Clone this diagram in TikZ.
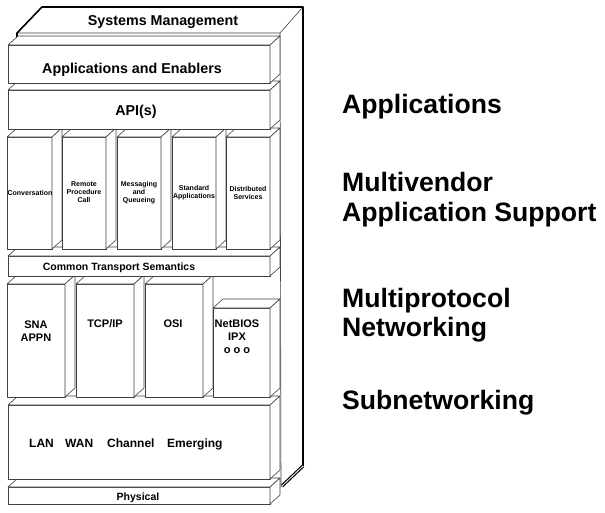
\documentclass[tikz,border=0pt]{standalone}
\usepackage{fontspec}
\setmainfont{Liberation Sans}
\newcommand\dx{10}
\newcommand\dy{9}
\tikzset{
  face/.style={draw=black!75, line width=0.6pt, fill=white, line join=round},
  heavy/.style={draw=black, line width=1.6pt, line join=round},
  big/.style={font=\fontsize{26.6}{30}\selectfont\bfseries, anchor=base west, inner sep=0pt},
  mid/.style={font=\fontsize{14.3}{16}\selectfont\bfseries, anchor=base, inner sep=0pt},
  sml/.style={font=\fontsize{10.5}{12}\selectfont\bfseries, anchor=base, inner sep=0pt},
  prot/.style={font=\fontsize{11}{13}\selectfont\bfseries, align=center, inner sep=0pt},
  tiny/.style={font=\fontsize{7}{7.8}\selectfont\bfseries, align=center, inner sep=0pt},
  net/.style={font=\fontsize{12}{14}\selectfont\bfseries, anchor=base west, inner sep=0pt}
}
\newcommand\slabbox[4]{%
  \draw[face] (#1,#2) rectangle (#3,#4);
  \draw[face] (#1,#2) -- (#1+\dx,#2-\dy) -- (#3+\dx,#2-\dy) -- (#3,#2) -- cycle;
  \draw[face] (#3,#2) -- (#3+\dx,#2-\dy) -- (#3+\dx,#4-\dy) -- (#3,#4) -- cycle;
}
\begin{document}
\begin{tikzpicture}[x=1pt,y=-1pt]
\useasboundingbox[fill=white] (0,0) rectangle (605,512);
% back box (Systems Management)
\fill[white] (17,33) -- (42,7) -- (303,7) -- (303,466) -- (281,487) -- (17,487) -- cycle;
\draw[face] (17,33) -- (280,33) -- (303,7);
\draw[face] (280,33) -- (281,487);
\draw[heavy] (17,40) -- (17,33) -- (42,7) -- (303,7) -- (303,466);
\draw[black, line width=1.2pt, double=white, double distance=0.8pt] (303,466) -- (282,486);
% layers, bottom to top
\slabbox{8}{487}{270}{504}
\slabbox{8}{405}{270}{479}
\slabbox{7}{284}{65}{397}
\slabbox{76}{284}{134}{397}
\slabbox{145}{284}{203}{397}
\slabbox{213}{308}{270}{397}
\slabbox{8}{256}{270}{276}
\slabbox{7}{137}{52}{249}
\slabbox{62}{137}{106}{249}
\slabbox{117}{137}{161}{249}
\slabbox{172}{137}{216}{249}
\slabbox{226}{137}{270}{249}
\slabbox{8}{90}{270}{129}
\slabbox{8}{45}{270}{83}
% texts in the stack
\node[mid] (sysm) at (163,25) {Systems Management};
\node[mid] (appen) at (132,73) {Applications and Enablers};
\node[mid] (api) at (136,115) {API(s)};
\node[tiny] (conv) at (30,193) {Conversation};
\node[tiny] (rpc) at (84,192) {Remote\\Procedure\\Call};
\node[tiny] (mq) at (139,193) {Messaging\\and\\Queueing};
\node[tiny] (stdapp) at (194,193) {Standard\\Applications};
\node[tiny] (dist) at (248,193) {Distributed\\Services};
\node[sml] (cts) at (119,270) {Common Transport Semantics};
\node[prot] (sna) at (36,331) {SNA\\APPN};
\node[prot] (tcp) at (105,324) {TCP/IP};
\node[prot] (osi) at (173,324) {OSI};
\node[prot] (netb) at (237,337) {NetBIOS\\IPX\\o o o};
\node[net] (lan) at (29,447) {LAN};
\node[net] (wan) at (65,447) {WAN};
\node[net] (chan) at (107,447) {Channel};
\node[net] (emer) at (167,447) {Emerging};
\node[sml] (phys) at (138,500) {Physical};
% right-hand labels
\node[big] (lapps) at (342,113.5) {Applications};
\node[big] (lmv) at (342,191.5) {Multivendor};
\node[big] (las) at (342,221.5) {Application Support};
\node[big] (lmp) at (342,307.5) {Multiprotocol};
\node[big] (lnet) at (342,336.5) {Networking};
\node[big] (lsub) at (342,409.5) {Subnetworking};
\end{tikzpicture}
\end{document}
